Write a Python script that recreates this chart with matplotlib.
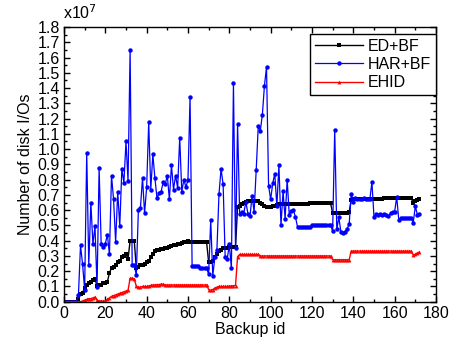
import matplotlib
matplotlib.use('Agg')
import matplotlib.pyplot as plt
import numpy as np
from matplotlib.ticker import MultipleLocator

plt.rcParams['font.family'] = ['Liberation Sans', 'DejaVu Sans']
plt.rcParams['font.size'] = 11.5

# backup ids 1..172, values in units of 1e7 disk I/Os
backup_id = list(range(1, 173))

ed_bf = [
    0.0, 0.0, 0.0, 0.0, 0.0, 0.0, 0.02, 0.05, 0.06, 0.09,
    0.11, 0.12, 0.13, 0.14, 0.15, 0.10, 0.11, 0.11, 0.12, 0.12,
    0.13, 0.19, 0.22, 0.23, 0.24, 0.26, 0.27, 0.29, 0.30, 0.31,
    0.28, 0.40, 0.40, 0.40, 0.22, 0.23, 0.24, 0.24, 0.25, 0.26,
    0.27, 0.29, 0.31, 0.33, 0.34, 0.34, 0.345, 0.345, 0.35, 0.355,
    0.36, 0.365, 0.37, 0.37, 0.375, 0.38, 0.385, 0.39, 0.39, 0.395,
    0.39, 0.39, 0.39, 0.39, 0.39, 0.39, 0.39, 0.39, 0.39, 0.26,
    0.26, 0.27, 0.29, 0.31, 0.33, 0.34, 0.35, 0.35, 0.35, 0.36,
    0.36, 0.36, 0.36, 0.62, 0.63, 0.64, 0.65, 0.655, 0.66, 0.66,
    0.66, 0.66, 0.66, 0.66, 0.65, 0.64, 0.63, 0.62, 0.62, 0.62,
    0.625, 0.63, 0.635, 0.64, 0.64, 0.64, 0.64, 0.64, 0.64, 0.64,
    0.642, 0.642, 0.642, 0.642, 0.643, 0.643, 0.643, 0.643, 0.644, 0.644,
    0.644, 0.644, 0.645, 0.645, 0.645, 0.645, 0.646, 0.646, 0.646, 0.58,
    0.58, 0.58, 0.58, 0.58, 0.58, 0.58, 0.58, 0.59, 0.665, 0.67,
    0.67, 0.67, 0.67, 0.672, 0.672, 0.672, 0.673, 0.674, 0.674, 0.675,
    0.675, 0.675, 0.676, 0.676, 0.677, 0.677, 0.678, 0.678, 0.678, 0.679,
    0.679, 0.68, 0.68, 0.68, 0.68, 0.68, 0.68, 0.68, 0.645, 0.66,
    0.665, 0.67,
]

har_bf = [
    0.0, 0.0, 0.0, 0.0, 0.0, 0.0, 0.044, 0.37, 0.245, 0.08,
    0.975, 0.24, 0.65, 0.377, 0.495, 0.096, 0.875, 0.375, 0.36, 0.38,
    0.44, 0.31, 0.827, 0.67, 0.39, 0.72, 0.495, 0.87, 0.78, 1.05,
    0.79, 1.65, 0.24, 0.24, 0.175, 0.60, 0.617, 0.81, 0.58, 0.75,
    1.175, 0.735, 0.965, 0.81, 0.68, 0.71, 0.72, 0.785, 0.77, 0.827,
    0.67, 0.895, 0.735, 0.827, 0.745, 1.075, 0.72, 0.80, 0.75, 0.80,
    1.34, 0.233, 0.233, 0.233, 0.233, 0.218, 0.218, 0.22, 0.22, 0.18,
    0.535, 0.17, 0.29, 0.34, 0.705, 0.87, 0.77, 0.29, 0.28, 0.375,
    0.218, 1.435, 0.35, 1.167, 0.578, 0.59, 0.578, 0.655, 0.578, 0.56,
    0.69, 0.59, 0.86, 1.15, 1.12, 1.226, 1.416, 1.538, 0.76, 0.67,
    0.775, 0.84, 0.626, 0.895, 0.50, 0.724, 0.543, 0.80, 0.567, 0.595,
    0.60, 0.556, 0.49, 0.49, 0.49, 0.49, 0.49, 0.49, 0.49, 0.50,
    0.50, 0.50, 0.50, 0.50, 0.50, 0.50, 0.50, 0.50, 0.50, 0.463,
    1.128, 0.474, 0.552, 0.458, 0.45, 0.46, 0.478, 0.508, 0.709, 0.655,
    0.677, 0.672, 0.675, 0.67, 0.68, 0.675, 0.675, 0.67, 0.785, 0.556,
    0.572, 0.57, 0.575, 0.57, 0.575, 0.57, 0.56, 0.58, 0.589, 0.59,
    0.687, 0.535, 0.546, 0.546, 0.546, 0.546, 0.546, 0.546, 0.517, 0.626,
    0.57, 0.575,
]

ehid = [
    0.0, 0.0, 0.0, 0.0, 0.0, 0.0, 0.0, 0.0, 0.005, 0.01,
    0.015, 0.02, 0.02, 0.025, 0.03, 0.01, 0.005, 0.005, 0.005, 0.005,
    0.015, 0.025, 0.035, 0.04, 0.045, 0.05, 0.055, 0.06, 0.065, 0.07,
    0.075, 0.153, 0.155, 0.15, 0.10, 0.095, 0.095, 0.10, 0.10, 0.10,
    0.103, 0.107, 0.11, 0.11, 0.112, 0.112, 0.115, 0.115, 0.11, 0.11,
    0.11, 0.11, 0.11, 0.11, 0.11, 0.11, 0.11, 0.11, 0.11, 0.11,
    0.11, 0.11, 0.11, 0.11, 0.11, 0.11, 0.11, 0.11, 0.11, 0.08,
    0.075, 0.08, 0.09, 0.095, 0.10, 0.10, 0.10, 0.10, 0.10, 0.103,
    0.103, 0.105, 0.105, 0.295, 0.31, 0.31, 0.31, 0.31, 0.31, 0.31,
    0.31, 0.31, 0.31, 0.31, 0.30, 0.30, 0.30, 0.30, 0.30, 0.30,
    0.30, 0.30, 0.30, 0.30, 0.30, 0.30, 0.30, 0.30, 0.30, 0.30,
    0.30, 0.30, 0.30, 0.30, 0.30, 0.30, 0.30, 0.30, 0.30, 0.30,
    0.30, 0.30, 0.30, 0.30, 0.30, 0.30, 0.30, 0.30, 0.30, 0.275,
    0.275, 0.275, 0.275, 0.275, 0.275, 0.275, 0.275, 0.275, 0.332, 0.332,
    0.332, 0.332, 0.332, 0.332, 0.332, 0.332, 0.332, 0.332, 0.332, 0.332,
    0.332, 0.332, 0.332, 0.332, 0.332, 0.332, 0.332, 0.332, 0.332, 0.332,
    0.332, 0.332, 0.332, 0.332, 0.332, 0.332, 0.332, 0.332, 0.305, 0.31,
    0.32, 0.325,
]

fig = plt.figure(figsize=(4.57, 3.49), dpi=100)
ax = fig.add_axes([0.140, 0.1355, 0.814, 0.787])

ax.plot(backup_id, ed_bf, color='black', lw=1.0, marker='s', ms=2.4, mew=0, label='ED+BF')
ax.plot(backup_id, har_bf, color='#0000ff', lw=0.9, marker='o', ms=3.2, mew=0, label='HAR+BF')
ax.plot(backup_id, ehid, color='red', lw=1.0, marker='^', ms=2.8, mew=0, label='EHID')

ax.set_xlim(0, 180)
ax.set_ylim(0, 1.8)
ax.xaxis.set_major_locator(MultipleLocator(20))
ax.xaxis.set_minor_locator(MultipleLocator(10))
ax.yaxis.set_major_locator(MultipleLocator(0.1))
ax.yaxis.set_minor_locator(MultipleLocator(0.05))
ax.yaxis.set_major_formatter(matplotlib.ticker.FormatStrFormatter('%.1f'))
ax.tick_params(which='both', direction='in', top=True, right=True, width=1.0)
ax.tick_params(which='major', length=4.5, pad=3)
ax.tick_params(which='minor', length=2.5)
for s in ax.spines.values():
    s.set_linewidth(1.0)

ax.set_xlabel('Backup id', labelpad=1)
ax.set_ylabel('Number of disk I/Os', labelpad=3)
fig.text(0.137, 0.945, r'x10$^7$', fontsize=11.5)

leg = ax.legend(loc='upper right', bbox_to_anchor=(1.0, 0.975), borderaxespad=0,
                fancybox=False, edgecolor='black', framealpha=1, handlelength=3.0,
                handletextpad=0.3, borderpad=0.3, labelspacing=0.2, markerscale=1.0)
leg.get_frame().set_linewidth(1.0)

fig.savefig('out.png', dpi=100)
